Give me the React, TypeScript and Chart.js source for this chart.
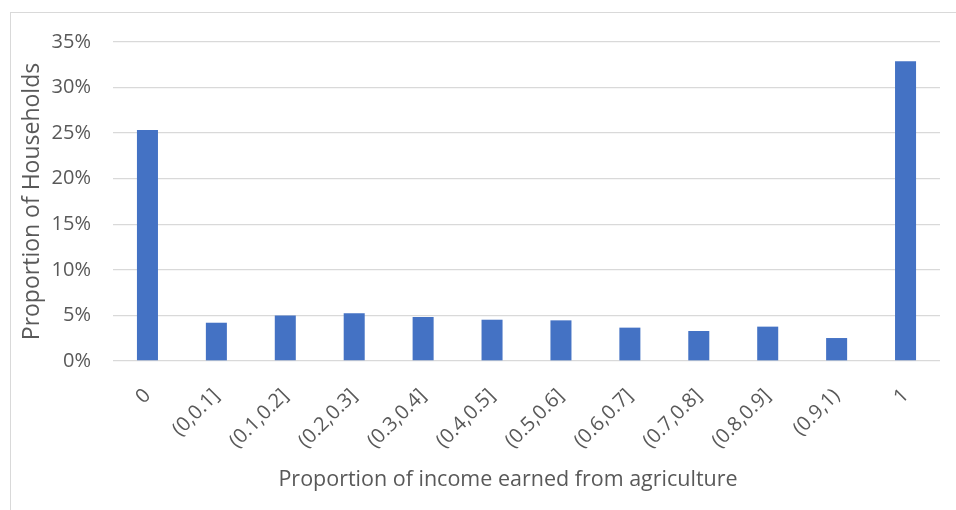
import React, { useEffect, useRef } from "react";
import { Chart, registerables } from "chart.js";

Chart.register(...registerables);

const categories = ["0", "(0,0.1]", "(0.1,0.2]", "(0.2,0.3]", "(0.3,0.4]", "(0.4,0.5]", "(0.5,0.6]", "(0.6,0.7]", "(0.7,0.8]", "(0.8,0.9]", "(0.9,1)", "1"];
const shares = [25.35, 4.2, 5.0, 5.23, 4.83, 4.53, 4.46, 3.66, 3.29, 3.77, 2.52, 32.88];
const yTicks = [0, 5, 10, 15, 20, 25, 30, 35];
const xTitle = "Proportion of income earned from agriculture";
const yTitle = "Proportion of Households";

const FONT = "'Open Sans', sans-serif";
const GREY = "#595959";

const xTitlePlugin = {
  id: "xTitlePlugin",
  afterDraw(chart: any) {
    const ctx = chart.ctx;
    ctx.save();
    ctx.font = `21.5px ${FONT}`;
    ctx.fillStyle = GREY;
    ctx.textAlign = "center";
    ctx.textBaseline = "middle";
    ctx.fillText(xTitle, 508, 480);
    ctx.restore();
  },
};

export default function App() {
  const ref = useRef<HTMLCanvasElement | null>(null);
  useEffect(() => {
    if (!ref.current) return;
    const chart = new Chart(ref.current, {
      type: "bar",
      data: {
        labels: categories,
        datasets: [
          {
            data: shares,
            backgroundColor: "#4472C4",
            categoryPercentage: 1,
            barPercentage: 0.305,
          },
        ],
      },
      plugins: [xTitlePlugin],
      options: {
        animation: false,
        responsive: false,
        maintainAspectRatio: false,
        layout: { padding: { left: 14, top: 42, right: 16, bottom: 0 } },
        plugins: { legend: { display: false }, tooltip: { enabled: false } },
        scales: {
          x: {
            grid: { display: false },
            border: { display: false },
            ticks: {
              color: GREY,
              font: { family: FONT, size: 20 },
              maxRotation: 45,
              minRotation: 45,
              padding: 15,
              autoSkip: false,
            },
            afterFit: (s: any) => {
              s.height = 149;
            },
          },
          y: {
            min: 0,
            max: 35,
            afterBuildTicks: (s: any) => {
              s.ticks = yTicks.map((v) => ({ value: v }));
            },
            grid: { color: "#d9d9d9", lineWidth: 1.3, drawTicks: false },
            border: { display: false },
            ticks: {
              color: GREY,
              font: { family: FONT, size: 20 },
              padding: 22,
              callback: (v: any) => v + "%",
            },
            title: {
              display: true,
              text: yTitle,
              color: GREY,
              font: { family: FONT, size: 23 },
              padding: { top: 5, bottom: 2 },
            },
            afterFit: (s: any) => {
              s.width = 99;
            },
          },
        },
      },
    });
    return () => chart.destroy();
  }, []);
  return (
    <div style={{ position: "absolute", left: 0, top: 0, width: 956, height: 510, background: "#fff", overflow: "hidden" }}>
      <div
        style={{
          position: "absolute",
          left: 10,
          top: 12,
          width: 1000,
          height: 600,
          borderLeft: "1.5px solid #d9d9d9",
          borderTop: "1.5px solid #d9d9d9",
        }}
      />
      <canvas ref={ref} width={956} height={510} style={{ position: "absolute", left: 0, top: 0 }} />
    </div>
  );
}
